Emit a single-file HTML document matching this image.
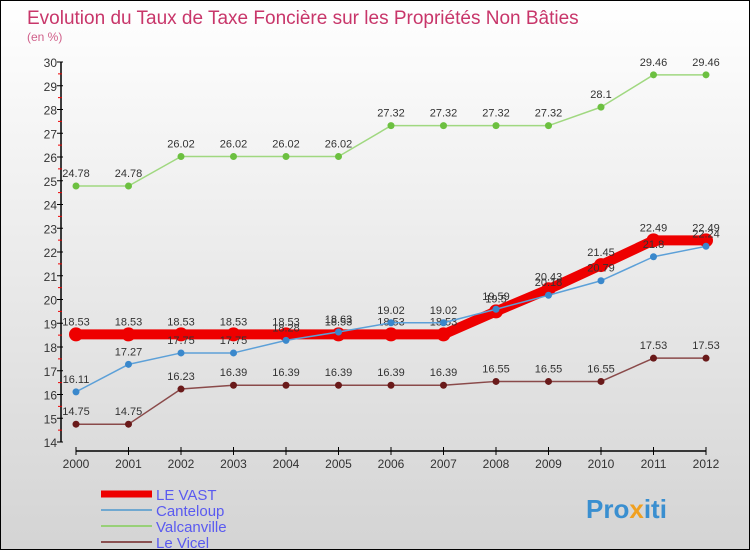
<!DOCTYPE html>
<html><head><meta charset="utf-8"><style>
body{margin:0}
#c{width:750px;height:550px;position:relative;box-sizing:border-box;border:1px solid #000;background:linear-gradient(#fff,#d4d4d4);font-family:"Liberation Sans",sans-serif;overflow:hidden}
</style></head><body>
<div id="c">
<svg id="s" width="750" height="550" style="position:absolute;left:0;top:0">
<text x="26" y="23" font-size="19" fill="#c8366a">Evolution du Taux de Taxe Foncière sur les Propriétés Non Bâties</text>
<text x="26" y="40" font-size="12" fill="#d0608a">(en %)</text>
<text x="585" y="517" font-size="26" font-weight="bold" fill="#3a8fd0">Pro<tspan fill="#f0a020">x</tspan>iti</text>
</svg>
</div>
<script>
const years=["2000","2001","2002","2003","2004","2005","2006","2007","2008","2009","2010","2011","2012"];
const yTicks=[14,15,16,17,18,19,20,21,22,23,24,25,26,27,28,29,30];
const leVast=[18.53,18.53,18.53,18.53,18.53,18.53,18.53,18.53,19.5,20.43,21.45,22.49,22.49];
const canteloup=[16.11,17.27,17.75,17.75,18.28,18.63,19.02,19.02,19.59,20.18,20.79,21.8,22.24];
const valcanville=[24.78,24.78,26.02,26.02,26.02,26.02,27.32,27.32,27.32,27.32,28.1,29.46,29.46];
const leVicel=[14.75,14.75,16.23,16.39,16.39,16.39,16.39,16.39,16.55,16.55,16.55,17.53,17.53];
const seriesNames=["LE VAST","Canteloup","Valcanville","Le Vicel"];
const svg=document.getElementById('s');const NS='http://www.w3.org/2000/svg';
const X=i=>75+i*52.5, Y=v=>441-(v-14)*23.75;
function mk(t,a,p){const e=document.createElementNS(NS,t);for(const k in a)e.setAttribute(k,a[k]);(p||svg).appendChild(e);return e;}
let ax=mk('line',{x1:60,y1:Y(30),x2:60,y2:Y(14),stroke:'#000','stroke-width':1.5});


let xa=mk('line',{x1:75,y1:450,x2:X(12),y2:450,stroke:'#000','stroke-width':1.5});


yTicks.forEach(v=>{mk('line',{x1:56,y1:Y(v),x2:62,y2:Y(v),stroke:'#000'});
 if(v<30)mk('line',{x1:57,y1:Y(v+0.5),x2:61,y2:Y(v+0.5),stroke:'#e00'});
 const t=mk('text',{x:56,y:Y(v)+5,'font-size':12,fill:'#333','text-anchor':'end'});t.textContent=v;
 
 });
years.forEach((y,i)=>{mk('line',{x1:X(i),y1:446,x2:X(i),y2:454,stroke:'#000'});
 const t=mk('text',{x:X(i),y:467,'font-size':12,fill:'#333','text-anchor':'middle'});t.textContent=y;
 
 });
function series(d,col,w,r,fill,name){
 const g=mk('g',{});
 
 
 mk('polyline',{points:d.map((v,i)=>X(i)+','+Y(v)).join(' '),fill:'none',stroke:col,'stroke-width':w,'stroke-linejoin':'round'},g);
 d.forEach((v,i)=>{mk('circle',{cx:X(i),cy:Y(v),r:r,fill:fill},g);
  const t=mk('text',{x:X(i),y:Y(v)-9,'font-size':11,fill:'#333','text-anchor':'middle'},g);t.textContent=v;});
}
series(valcanville,'#a0d880',1.5,3.5,'#6cc040','series-valcanville');
series(leVicel,'#8a4a4a',1.5,3.5,'#6a1a1a','series-le-vicel');
series(leVast,'#ee0000',10,7,'#ee0000','series-le-vast');
series(canteloup,'#5ca0d8',1.5,3.5,'#3a88cc','series-canteloup');
const lc=['#ee0000','#70a8d0','#98d078','#8a5050'],lw=[7,2,2,2];
seriesNames.forEach((n,i)=>{const yy=493+i*16;
 const l=mk('line',{x1:100,y1:yy,x2:151,y2:yy,stroke:lc[i],'stroke-width':lw[i]});
 
 
 const t=mk('text',{x:155,y:yy+6,'font-size':15,fill:'#5a5af0'});t.textContent=n;
 
 });
</script>
</body></html>
